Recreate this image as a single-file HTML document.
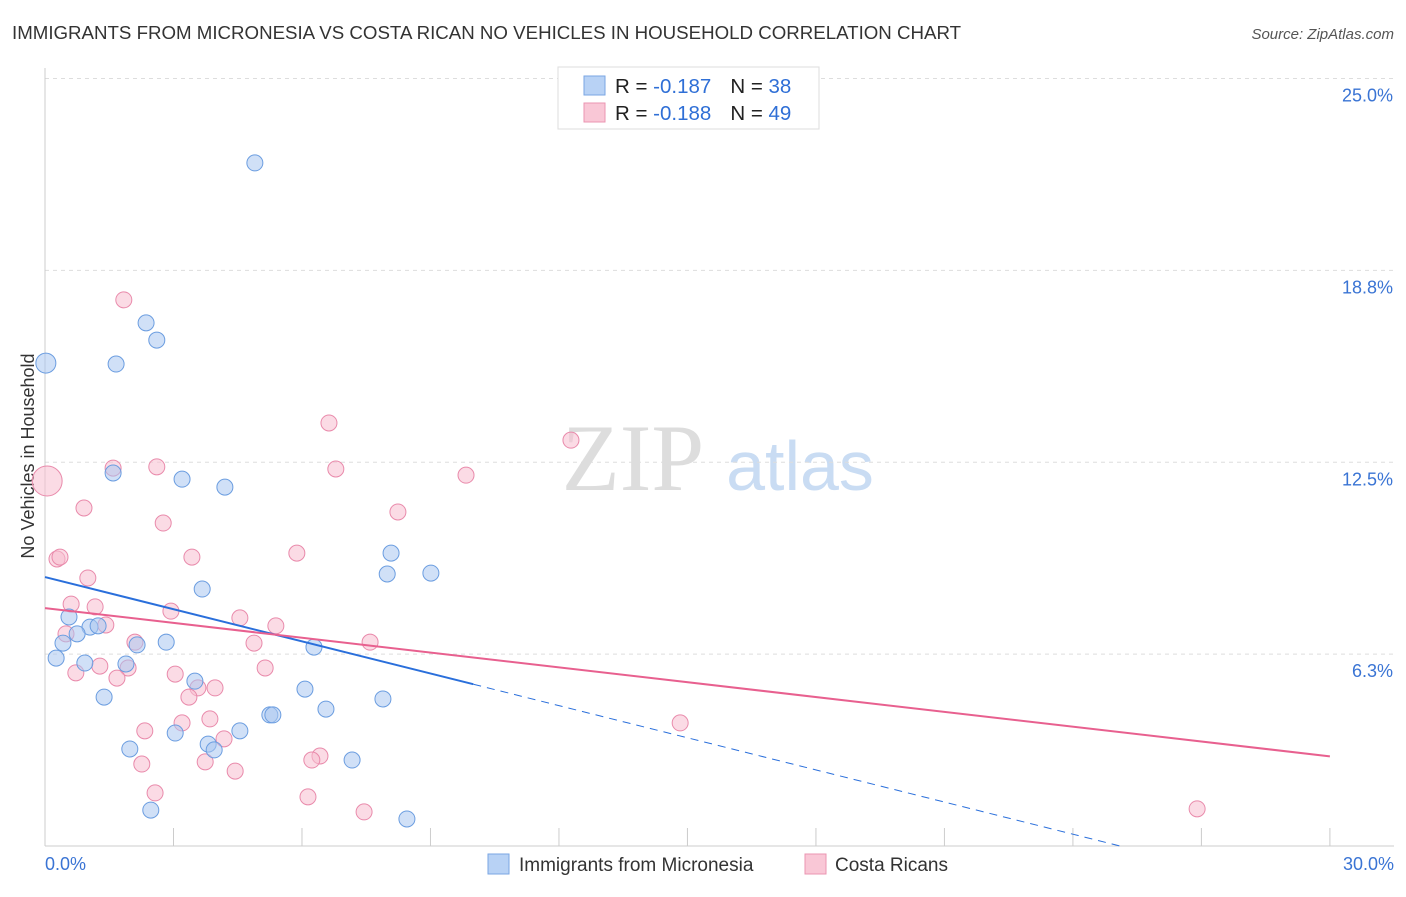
<!DOCTYPE html>
<html><head><meta charset="utf-8"><style>
body{margin:0;background:#fff;font-family:"Liberation Sans",sans-serif;}
</style></head><body>
<svg id="c" width="1406" height="892" xmlns="http://www.w3.org/2000/svg" style="font-family:'Liberation Sans',sans-serif">
<text x="12" y="39" font-size="18.7" fill="#333">IMMIGRANTS FROM MICRONESIA VS COSTA RICAN NO VEHICLES IN HOUSEHOLD CORRELATION CHART</text>
<text x="1394" y="39" font-size="15" fill="#555" font-style="italic" text-anchor="end">Source: ZipAtlas.com</text>
<text x="633" y="490" font-size="95" fill="#ddd" font-family="Liberation Serif" text-anchor="middle">ZIP</text>
<text x="800" y="490" font-size="70" fill="#c9dcf3" text-anchor="middle">atlas</text>
<text transform="translate(34,456) rotate(-90)" font-size="18" fill="#333" text-anchor="middle">No Vehicles in Household</text>
<g id="grid"></g><g id="pts"></g><g id="lines"></g>
<g>
<rect x="558" y="67" width="261" height="62" fill="#fff" stroke="#ddd"/>
<rect x="584" y="76" width="21" height="19" fill="#b8d2f5" stroke="#7aa6e3"/>
<rect x="584" y="103" width="21" height="19" fill="#f9c7d6" stroke="#eb94b1"/>
<text x="615" y="93" font-size="20.5" fill="#222">R = <tspan fill="#2f6fd6">-0.187</tspan><tspan dx="19">N = </tspan><tspan fill="#2f6fd6">38</tspan></text>
<text x="615" y="120" font-size="20.5" fill="#222">R = <tspan fill="#2f6fd6">-0.188</tspan><tspan dx="19">N = </tspan><tspan fill="#2f6fd6">49</tspan></text>
</g>
<g>
<rect x="488" y="854" width="21" height="20" fill="#b8d2f5" stroke="#7aa6e3"/>
<text x="519" y="871" font-size="19" fill="#333">Immigrants from Micronesia</text>
<rect x="805" y="854" width="21" height="20" fill="#f9c7d6" stroke="#eb94b1"/>
<text x="835" y="871" font-size="19" fill="#333">Costa Ricans</text>
</g>
</svg>
<script>
const yTicks=[6.25,12.5,18.75,25];
const yTickLabels=["6.3%","12.5%","18.8%","25.0%"];
const xTickLabels=["0.0%","30.0%"];
const blueX=[4.90,0.02,2.36,2.61,1.66,1.59,3.20,4.20,8.08,7.99,9.01,3.67,0.56,1.05,1.24,0.75,0.42,2.15,2.83,6.28,0.26,0.93,1.89,3.50,6.07,1.38,7.89,6.56,5.25,5.32,4.55,3.04,3.81,3.95,1.98,7.17,2.47,8.45];
const blueY=[22.25,15.73,17.04,16.48,15.70,12.15,11.95,11.69,9.54,8.86,8.89,8.37,7.46,7.13,7.17,6.91,6.61,6.55,6.64,6.48,6.12,5.96,5.93,5.37,5.11,4.85,4.79,4.46,4.27,4.27,3.75,3.68,3.32,3.13,3.16,2.80,1.17,0.88];
const pinkX=[0.05,1.84,6.63,12.28,1.59,2.61,6.79,9.83,0.91,8.24,2.76,0.28,0.35,3.43,5.88,1.00,0.61,1.17,2.94,4.55,5.39,1.42,0.49,2.10,4.88,7.59,1.28,1.94,5.14,0.72,3.04,1.68,3.57,3.97,3.36,3.85,3.20,14.83,2.33,4.18,6.42,6.23,2.26,3.74,4.44,2.57,6.14,7.45,26.90];
const pinkY=[11.89,17.79,13.78,13.22,12.31,12.35,12.28,12.08,11.01,10.88,10.52,9.35,9.41,9.41,9.54,8.73,7.88,7.79,7.65,7.43,7.17,7.20,6.91,6.64,6.61,6.64,5.86,5.80,5.80,5.64,5.60,5.47,5.15,5.15,4.85,4.14,4.01,4.01,3.75,3.49,2.93,2.80,2.67,2.74,2.44,1.73,1.60,1.11,1.21];
const blueTrend=[8.76,-0.349,10];
const pinkTrend=[7.75,-0.161];
const X=v=>45+v*42.83, Y=v=>846-v*30.7;
const NS="http://www.w3.org/2000/svg";
function mk(p,t,a){const e=document.createElementNS(NS,t);for(const k in a)e.setAttribute(k,a[k]);p.appendChild(e);return e;}
const g=document.getElementById('grid');
yTicks.forEach((t,i)=>{
 const l=mk(g,'line',{x1:45,x2:1394,y1:Y(t),y2:Y(t),stroke:'#ddd','stroke-dasharray':'4,4'});
 
 
 const tx=mk(g,'text',{x:1393,y:Y(t)+23,'font-size':18,fill:'#3a74d4','text-anchor':'end'});
 tx.textContent=yTickLabels[i];
 
 
});
const ax=mk(g,'line',{x1:45,x2:45,y1:68,y2:846,stroke:'#ccc'});


const bx=mk(g,'line',{x1:45,x2:1394,y1:846,y2:846,stroke:'#ccc'});


for(let i=0;i<=10;i++){const t=mk(g,'line',{x1:X(i*3),x2:X(i*3),y1:828,y2:846,stroke:'#ccc'});
 
 }
[[0,'start',45],[30,'end',1394]].forEach((d,i)=>{const t=mk(g,'text',{x:d[2],y:870,'font-size':18,fill:'#3a74d4','text-anchor':d[1]});t.textContent=xTickLabels[i];
 
 });
const p=document.getElementById('pts');
function pts(xs,ys,f,s,name){xs.forEach((x,i)=>{const big=(x<0.1&&(ys[i]>11&&ys[i]<16));
 const c=mk(p,'circle',{cx:X(x),cy:Y(ys[i]),r:big?(ys[i]<12?15:10):8,fill:f,'fill-opacity':0.55,stroke:s,'stroke-width':1});
 
 });}
pts(pinkX,pinkY,'#f7bdd0','#e98aab','point-costa-rican');
pts(blueX,blueY,'#a9c7f0','#6b9de0','point-micronesia');
const L=document.getElementById('lines');
const bs=mk(L,'line',{x1:X(0),y1:Y(blueTrend[0]),x2:X(blueTrend[2]),y2:Y(blueTrend[0]+blueTrend[1]*blueTrend[2]),stroke:'#2a6fdb','stroke-width':2});


const xe=-blueTrend[0]/blueTrend[1];
const bd=mk(L,'line',{x1:X(blueTrend[2]),y1:Y(blueTrend[0]+blueTrend[1]*blueTrend[2]),x2:X(xe),y2:Y(0),stroke:'#2a6fdb','stroke-width':1,'stroke-dasharray':'8,6'});


const pl=mk(L,'line',{x1:X(0),y1:Y(pinkTrend[0]),x2:X(30),y2:Y(pinkTrend[0]+pinkTrend[1]*30),stroke:'#e8608f','stroke-width':2});


</script>
</body></html>
